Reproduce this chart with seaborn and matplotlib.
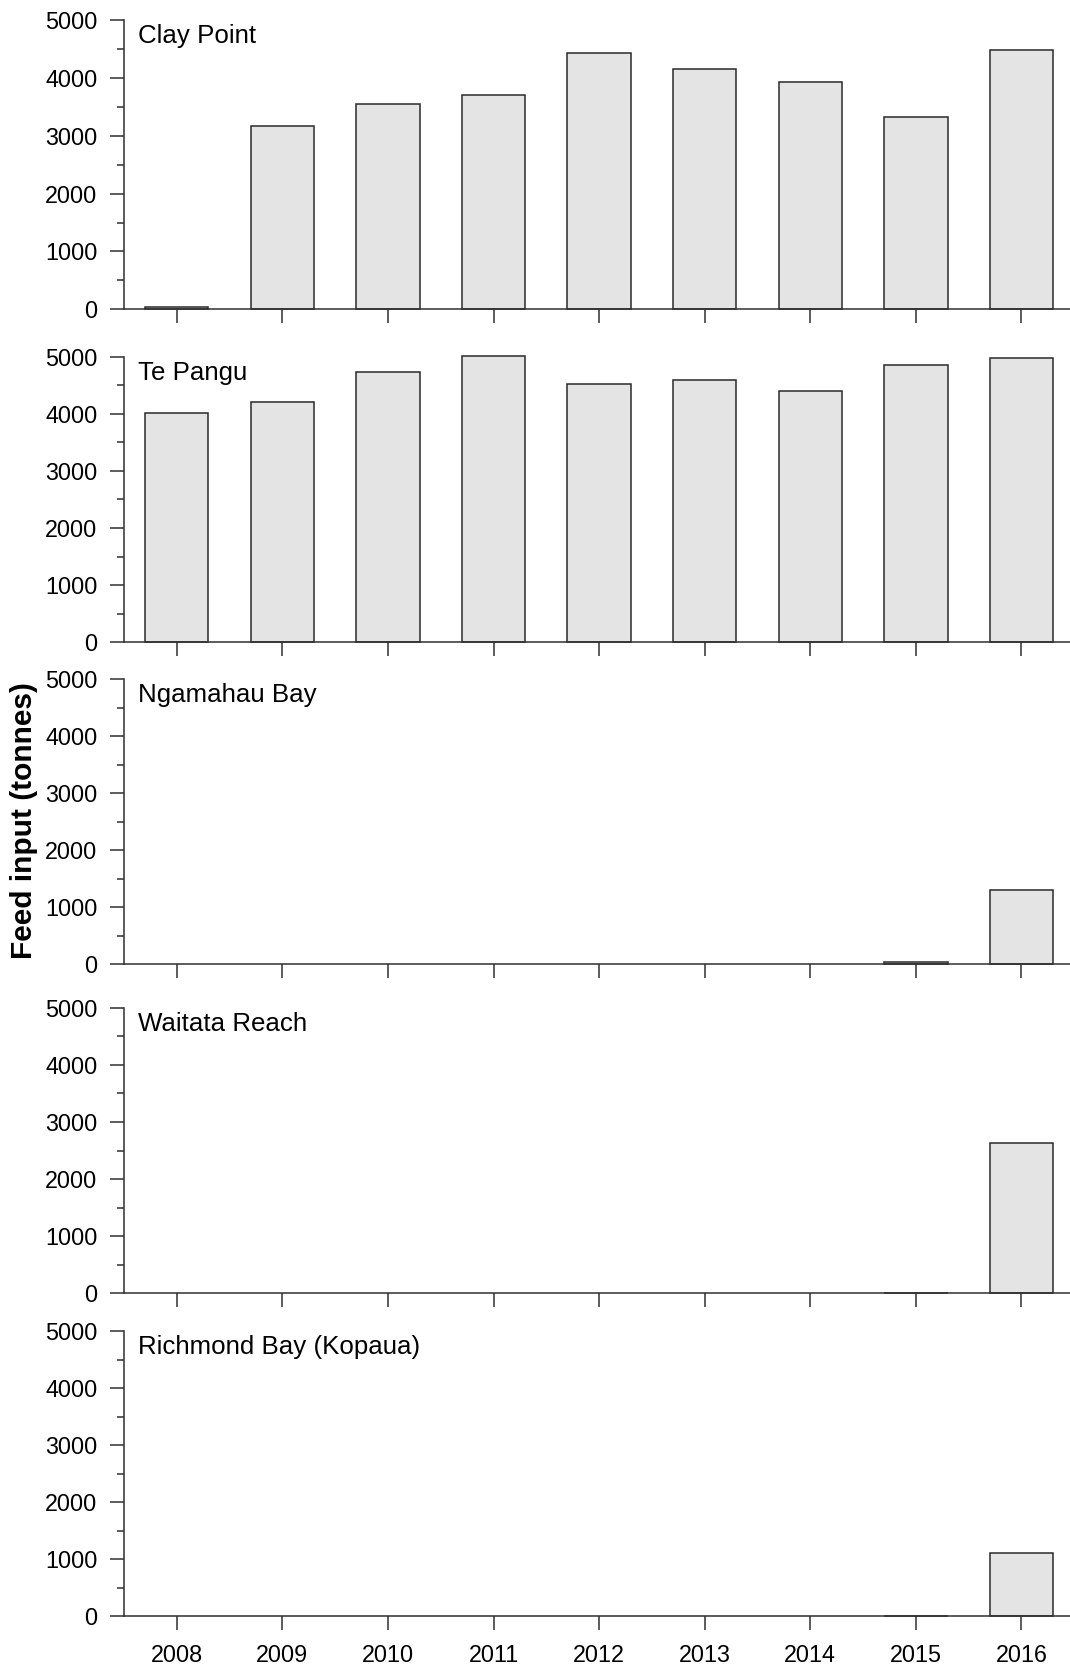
import matplotlib
matplotlib.use("Agg")
import matplotlib.pyplot as plt
import seaborn as sns
import pandas as pd
from matplotlib.ticker import MultipleLocator

# ---- data ----
years = ["2008", "2009", "2010", "2011", "2012", "2013", "2014", "2015", "2016"]
sites = ["Clay Point", "Te Pangu", "Ngamahau Bay", "Waitata Reach", "Richmond Bay (Kopaua)"]
clay_point = [45, 3160, 3550, 3700, 4430, 4150, 3930, 3320, 4490]
te_pangu = [4020, 4200, 4740, 5010, 4530, 4590, 4400, 4860, 4970]
ngamahau_bay = [0, 0, 0, 0, 0, 0, 0, 35, 1310]
waitata_reach = [0, 0, 0, 0, 0, 0, 0, 5, 2640]
richmond_bay = [0, 0, 0, 0, 0, 0, 0, 5, 1100]
series = [clay_point, te_pangu, ngamahau_bay, waitata_reach, richmond_bay]
y_label = "Feed input (tonnes)"

sns.set_style("ticks")
plt.rcParams["font.family"] = ["Liberation Sans", "DejaVu Sans"]

W, H = 1070, 1671
fig = plt.figure(figsize=(W / 100, H / 100), dpi=100)

panel_px = [(20, 309.3), (356.7, 642.3), (679.3, 964.3), (1007.7, 1293.3), (1331, 1616)]
left_px = 124
axis_color = "#303030"

for i, (site, vals) in enumerate(zip(sites, series)):
    top, bot = panel_px[i]
    ax = fig.add_axes([left_px / W, 1 - bot / H, (W - left_px) / W, (bot - top) / H])
    df = pd.DataFrame({"year": years, "value": vals})
    sns.barplot(data=df, x="year", y="value", ax=ax, color="#e4e4e4", saturation=1,
                width=0.6, edgecolor="#2a2a2a", linewidth=1.1, errorbar=None)
    for p in ax.patches:
        p.set_clip_on(False)
        if p.get_height() == 0:
            p.set_linewidth(0)
    ax.set_xlim(-0.5, 8.46)
    ax.set_ylim(0, 5000)
    ax.yaxis.set_major_locator(MultipleLocator(1000))
    ax.yaxis.set_minor_locator(MultipleLocator(500))
    ax.set_xlabel("")
    ax.set_ylabel("")
    for s in ["top", "right"]:
        ax.spines[s].set_visible(False)
    for s in ["left", "bottom"]:
        ax.spines[s].set_linewidth(1.1)
        ax.spines[s].set_color(axis_color)
    ax.tick_params(axis="both", which="major", length=10, width=1.1, color=axis_color,
                   labelsize=16.8, labelcolor="black", pad=9.2, direction="out")
    ax.tick_params(axis="y", which="minor", length=4.8, width=1.1, color=axis_color, direction="out")
    ax.tick_params(axis="x", pad=10)
    if i < len(sites) - 1:
        ax.set_xticklabels([])
    ax.text(13.7 / (W - left_px), 1 - 23 / (bot - top), site, transform=ax.transAxes,
            ha="left", va="baseline", fontsize=18.6, color="black")

fig.text(24 / W, 1 - 821 / H, y_label, rotation=90, ha="center", va="center",
         fontsize=21.5, fontweight="bold", color="black")

fig.savefig("out.png", dpi=100, facecolor="white")
